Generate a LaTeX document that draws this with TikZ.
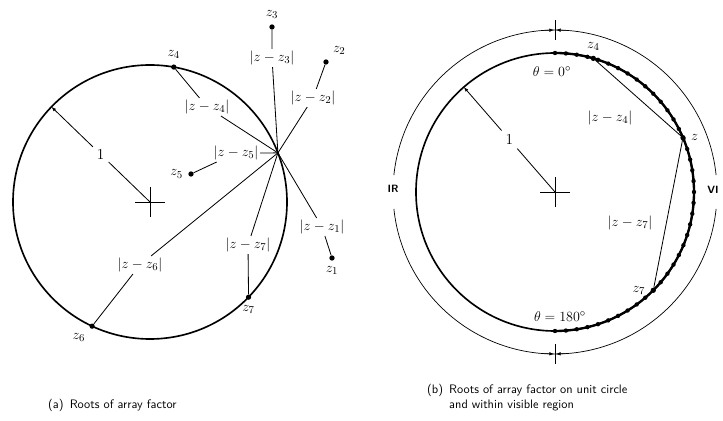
\documentclass[tikz,border=0pt]{standalone}
\usetikzlibrary{arrows.meta}
\begin{document}
\begin{tikzpicture}[
        x=0.03cm, y=0.03cm,
        every node/.style={font=\fontsize{13}{15}\selectfont},
        root/.style={circle, fill, inner sep=0pt, minimum size=4.5pt},
        dist/.style={inner sep=1.5pt},
        lbl/.style={label distance=1pt},
        ray/.style={draw, line width=0.7pt},
        unit/.style={line width=1.4pt},
        radtip/.style={-{Latex[length=4pt,width=3pt]}},
        tiptick/.style={-{Latex[length=4pt,width=3pt]}, line width=0.5pt},
        region/.style={font=\sffamily\bfseries\small},
        figcap/.style={font=\sffamily\fontsize{10.5}{13}\selectfont, align=left, anchor=north west},
    ]
    \useasboundingbox (0,0) rectangle (723,421);

    % (a) roots of array factor
    \begin{scope}[shift={(150,219)}]
        \coordinate (oa) at (0,0);
        \draw[unit] (oa) circle[radius=137];
        \draw[ray] (-15,0) -- (15,0) (0,-15) -- (0,15);
        \coordinate (za) at (21:137);
        \node[root, label={[lbl]above:$z_4$}] (za4) at (80:137) {};
        \node[root, label={[lbl]below:$z_7$}] (za7) at (-44:137) {};
        \node[root, label={[lbl]below left:$z_6$}] (za6) at (-115:137) {};
        \node[root, label={[lbl]above:$z_3$}] (za3) at (122,175) {};
        \node[root, label={[lbl]above right:$z_2$}] (za2) at (176,140) {};
        \node[root, label={[lbl]left:$z_5$}] (za5) at (41,28) {};
        \node[root, label={[lbl]below:$z_1$}] (za1) at (182,-56) {};
        \node[dist] (da3) at (122,144) {$|z-z_3|$};
        \node[dist] (da2) at (163,104) {$|z-z_2|$};
        \node[dist] (da4) at (57,95) {$|z-z_4|$};
        \node[dist] (da5) at (86,49) {$|z-z_5|$};
        \node[dist] (da6) at (-10,-63) {$|z-z_6|$};
        \node[dist] (da7) at (98,-43) {$|z-z_7|$};
        \node[dist] (da1) at (172,-25) {$|z-z_1|$};
        \foreach \k in {1,...,7}
            \draw[ray] (za) -- (da\k) -- (za\k);
        \node (ra) at (136:68.5) {1};
        \draw[ray, radtip] (oa) -- (ra) -- (136:137);
    \end{scope}

    % (b) roots on unit circle, visible region
    \begin{scope}[shift={(555,229)}]
        \coordinate (ob) at (0,0);
        \draw[unit] (ob) circle[radius=139];
        \draw[line width=2pt] (90:139) arc[start angle=90, end angle=-90, radius=139];
        \foreach \a in {90,85.5,...,-90}
            \fill (\a:139) circle[radius=2.2];
        \draw[line width=0.6pt] (6:162) arc[start angle=6, end angle=174, radius=162];
        \draw[line width=0.6pt] (186:162) arc[start angle=186, end angle=354, radius=162];
        % limits of the visible region
        \draw[line width=0.6pt] (0,152) -- (0,172) (0,-152) -- (0,-172);
        \draw[tiptick] (-13,161.5) -- (-1,162);
        \draw[tiptick] (13,161.5) -- (1,162);
        \draw[tiptick] (-13,-161.5) -- (-1,-162);
        \draw[tiptick] (13,-161.5) -- (1,-162);
        \node[region] (ir) at (-162,3) {IR};
        \node[region] (vi) at (158,2) {VI};
        \draw[ray] (-15,0) -- (15,0) (0,-15) -- (0,15);
        \node[root, label={[lbl]right:$z$}] (zb) at (23:139) {};
        \node[root, label={[lbl]above:$z_4$}] (zb4) at (74:139) {};
        \node[root, label={[lbl]left:$z_7$}] (zb7) at (-45:139) {};
        \draw[ray] (zb4) -- (zb) -- (zb7);
        \node[dist] (db4) at (55,74) {$|z-z_4|$};
        \node[dist] (db7) at (75,-31) {$|z-z_7|$};
        \node (t0) at (-3,120) {$\theta=0^\circ$};
        \node (t180) at (5,-125) {$\theta=180^\circ$};
        \node (rb) at (131:69.5) {1};
        \draw[ray, radtip] (ob) -- (rb) -- (131:139);
    \end{scope}

    % captions
    \node[figcap] (capa) at (44,26) {(a)\enspace Roots of array factor};
    \node[figcap] (capb) at (423,41) {(b)\enspace Roots of array factor on unit circle\\
        \phantom{(b)\enspace}and within visible region};
\end{tikzpicture}
\end{document}
